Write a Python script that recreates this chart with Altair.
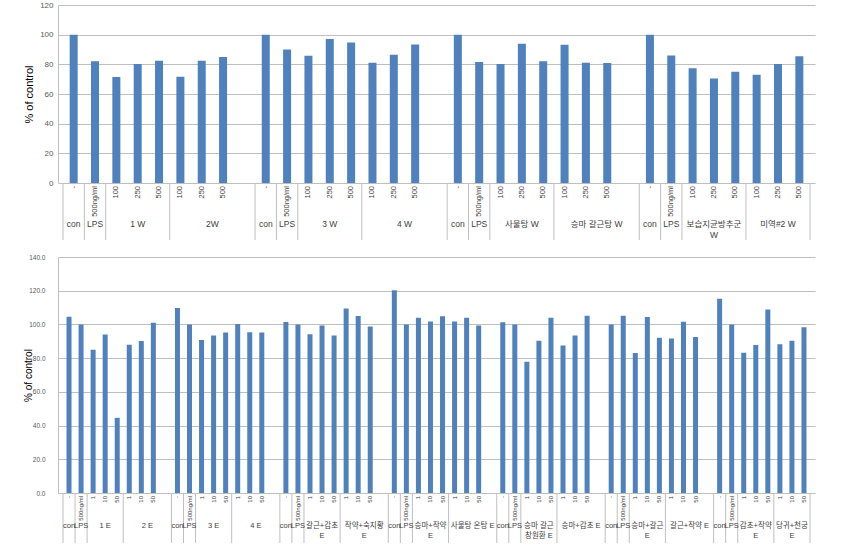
import altair as alt
import pandas as pd

# ---------------- data ----------------
top_groups = ["con", "LPS", "1 W", "2W", "con", "LPS", "3 W", "4 W",
              "con", "LPS", "사물탕  W", "승마 갈근탕 W",
              "con", "LPS", "보습지균방추군\nW", "미역#2 W"]
top_values = [[100], [82], [71.5, 80.2, 82.5], [71.7, 82.5, 85.0],
              [100], [90], [85.8, 97.1, 94.8], [81.1, 86.5, 93.4],
              [100], [81.6], [80.2, 93.9, 82.0], [93.2, 81.1, 80.9],
              [100], [86], [77.3, 70.5, 75.0], [73.0, 80.2, 85.4]]
top_doses = ["100", "250", "500"]
top_lps = "500ng/ml"
top_ticks = [0, 20, 40, 60, 80, 100, 120]

bot_groups = ["con", "LPS", "1 E", "2 E", "con", "LPS", "3 E", "4 E",
              "con", "LPS", "갈근+감초\nE", "작약+숙지황\nE",
              "con", "LPS", "승마+작약\nE", "사물탕 온탕 E",
              "con", "LPS", "승마 갈근\n창원환 E", "승마+감초 E",
              "con", "LPS", "승마+갈근\nE", "갈근+작약 E",
              "con", "LPS", "감초+작약\nE", "당귀+천궁\nE"]
bot_values = [[104.5], [100], [85.0, 94.0, 44.6], [88.0, 90.2, 101.0],
              [109.8], [100], [90.8, 93.5, 95.2], [100.3, 95.3, 95.2],
              [101.5], [100], [94.2, 99.3, 93.5], [109.4, 105.0, 98.7],
              [120.3], [100], [103.9, 101.8, 104.9], [101.8, 104.0, 99.4],
              [101.3], [100], [77.9, 90.3, 103.9], [87.5, 93.5, 105.2],
              [100], [105.1], [83.0, 104.4, 92.1], [91.7, 101.6, 92.5],
              [115.3], [100], [83.2, 87.8, 108.9], [88.2, 90.3, 98.4]]
bot_doses = ["1", "10", "50"]
bot_lps = "500ng/ml"
bot_ticks = [0, 20, 40, 60, 80, 100, 120, 140]

BLUE = "#4F81BD"
GRID = "#BFBFBF"
TXT = "#404040"
FONT = "Liberation Sans, Noto Sans CJK KR"
TITLE_FONT = "Liberation Sans Narrow, Arial Narrow, Liberation Sans"


def build(groups, values, doses, lps, ticks, fmt, width, height, bar_size,
          inner_fs, outer_fs, inner_off, outer_off, rule_len,
          label_pad, title_x, title_fs, tick_fs):
    bars, inner, outer, seps = [], [], [], []
    slot = 0
    last = len(groups) - 1
    for gi, g in enumerate(groups):
        if g == "con":
            items = ["-"]
        elif g == "LPS":
            items = [lps]
        else:
            items = doses
        start = slot
        for it, v in zip(items, values[gi]):
            bars.append({"x": slot + 0.5, "v": v})
            inner.append({"x": slot + 0.5, "t": it})
            slot += 1
        if gi % 4 == 3 and gi != last:
            slot += 1
        outer.append({"x": (start + slot) / 2, "t": g})
        seps.append({"x": start})
    seps.append({"x": slot})
    total = slot

    xs = alt.Scale(domain=[0, total], nice=False, zero=False)
    xenc = alt.X("x:Q", scale=xs, axis=None)

    bar = alt.Chart(pd.DataFrame(bars)).mark_bar(size=bar_size, color=BLUE).encode(
        x=xenc,
        y=alt.Y("v:Q", scale=alt.Scale(domain=[ticks[0], ticks[-1]], nice=False),
                axis=alt.Axis(values=ticks, format=fmt, grid=True, gridColor=GRID,
                              domainColor=GRID, ticks=False, labelColor="#595959",
                              labelFontSize=tick_fs, labelFont=FONT,
                              labelPadding=label_pad, title="% of control",
                              titleFont=TITLE_FONT, titleFontSize=title_fs,
                              titleFontWeight="normal", titleColor="#000000",
                              titleX=title_x, titleY=height / 2,
                              titleAngle=270, titleBaseline="middle",
                              titleAlign="center")),
    )
    sep = alt.Chart(pd.DataFrame(seps)).mark_rule(color=GRID, strokeWidth=1).encode(
        x=xenc, y=alt.value(height), y2=alt.value(height + rule_len))
    inn = alt.Chart(pd.DataFrame(inner)).mark_text(
        angle=270, align="right", baseline="middle", fontSize=inner_fs,
        font=FONT, color=TXT).encode(x=xenc, y=alt.value(height + inner_off), text="t:N")
    out = alt.Chart(pd.DataFrame(outer)).mark_text(
        align="center", baseline="top", lineBreak="\n", fontSize=outer_fs,
        lineHeight=outer_fs + 2, font=FONT, color=TXT).encode(
        x=xenc, y=alt.value(height + outer_off), text="t:N")
    return alt.layer(bar, sep, inn, out).properties(width=width, height=height)


top = build(top_groups, top_values, top_doses, top_lps, top_ticks, "d",
            757, 178, 8, 7.5, 8.5, 3, 37, 57, 5, -29, 11, 8)
bot = build(bot_groups, bot_values, bot_doses, bot_lps, bot_ticks, ".1f",
            757, 236, 5, 6, 7.5, 3, 29, 50, 13, -30, 10, 6.5)

chart = alt.vconcat(top, bot, spacing=13).properties(
    padding={"left": 23, "top": 1, "right": 5, "bottom": 5}
).configure_view(stroke=None)

chart.save("out.html", embed_options={"renderer": "svg", "actions": False})
